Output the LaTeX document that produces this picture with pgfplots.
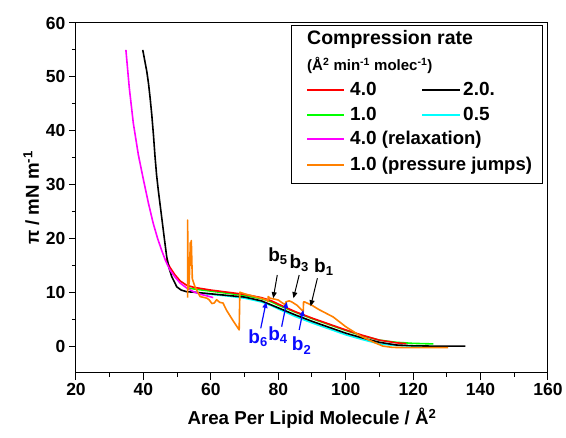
\documentclass[border=0pt]{standalone}
\usepackage{fontspec}
\setmainfont{Liberation Sans}
\usepackage{pgfplots}
\pgfplotsset{compat=1.18}
\usetikzlibrary{arrows.meta}
\definecolor{cred}{RGB}{255,0,0}
\definecolor{cgreen}{RGB}{0,255,0}
\definecolor{ccyan}{RGB}{0,255,255}
\definecolor{cmag}{RGB}{255,0,255}
\definecolor{corange}{RGB}{255,128,0}
\definecolor{cblue}{RGB}{10,10,255}
\newcommand\fs[1]{\fontsize{#1}{#1}\selectfont\bfseries}

\begin{document}
\begin{tikzpicture}
\useasboundingbox (-76pt,-65pt) rectangle (490pt,373pt);
\begin{axis}[
    scale only axis,width=472pt,height=350pt,
    xmin=20,xmax=160,ymin=-5,ymax=60,
    xtick={20,40,...,160},ytick={0,10,...,60},
    minor x tick num=1,minor y tick num=1,
    tick pos=left,tick align=outside,
    major tick length=7pt,minor tick length=4pt,
    axis line style={line width=1pt},
    every tick/.style={black,line width=1pt},
    /pgf/number format/assume math mode=true,
    tick label style={font=\fs{17.5}},
    xlabel={Area Per Lipid Molecule / Å\textsuperscript{2}},
    ylabel={π / mN m\textsuperscript{-1}},
    label style={font=\fs{18.7}},
    xlabel style={yshift=-5pt},
    ylabel style={yshift=0pt},
    every axis plot/.append style={line width=1.6pt,line join=round},
  ]
  % 0.5
  \addplot[ccyan] coordinates {(54.3,10.1)(60,9.6)(65,9.3)(70,8.9)(75,8.2)(78,7.5)(80,6.9)(85,5.5)(90,4.3)(95,3.2)(100,2.1)(105,1.2)(110,0.4)(115,0.1)(120,0)(125,-0.05)};
  % 1.0
  \addplot[cgreen] coordinates {(53.2,10.8)(55,10.6)(60,10.2)(65,9.8)(70,9.4)(75,8.8)(78,8.2)(80,7.6)(85,6.3)(90,5.1)(95,4.0)(100,2.9)(105,1.9)(110,1.1)(115,0.7)(120,0.5)(126,0.4)};
  % 4.0
  \addplot[cred] coordinates {(46.6,16.2)(47.9,14.6)(49.4,13.2)(50.9,12.1)(52.8,11.3)(55,10.9)(60,10.4)(65,10.0)(70,9.6)(75,9.0)(78,8.4)(80,7.8)(85,6.4)(90,5.2)(95,4.1)(100,3.0)(105,2.0)(110,1.1)(115,0.6)(118,0.45)};
  % 2.0
  \addplot[black] coordinates {(39.8,55)(40.4,53)(41.0,51.0)(41.5,48.8)(42.0,46.0)(42.5,42.8)(43.0,39.0)(43.4,35.5)(43.9,31.8)(44.4,29)(45.0,26)(45.4,24)(46.2,20)(46.9,16.6)(47.6,14.5)(48.4,12.9)(49.9,11.0)(51.2,10.4)(52.8,10.1)(55,10.0)(60,9.7)(65,9.4)(70,9.1)(75,8.4)(80,7.1)(85,5.8)(90,4.6)(95,3.5)(100,2.4)(105,1.5)(110,0.7)(115,0.2)(120,0.05)(125,0)(135.5,0)};
  % 4.0 relaxation
  \addplot[cmag] coordinates {(34.8,55)(35.8,48)(37,41.4)(38.5,35.5)(40,30.9)(41.5,26.5)(42.9,22.8)(44.2,20)(45.4,17.8)(46.6,15.8)(47.9,14.1)(49.4,12.8)(50.9,11.7)(52.8,10.8)(54.8,10.1)(57,9.6)(59,9.3)(60.7,9.0)};
  % 1.0 pressure jumps
  \addplot[corange] coordinates {(130.4,-0.3)(120,-0.3)(114,-0.25)(111,0.0)(108,0.8)(104.3,1.9)(100,3.6)(96.3,5.4)(92,6.8)(89.9,7.6)(87.8,8.2)(87.5,8.2)(87.4,6.4)(86.5,7.0)(85.5,7.6)(84,8.2)(83.2,8.4)(82.3,8.2)(82.0,7.7)(81,8.1)(80,8.55)(79,8.7)(77.5,8.9)(77.0,9.2)(77.0,8.3)(76.5,8.6)(73,9.2)(70,9.7)(68.6,10.0)(68.4,3.0)(66.7,4.6)(64.7,6.6)(63.6,8.0)(62.7,8.1)(61.7,8.6)(61,8.0)(60.3,7.9)(59.5,8.6)(58.8,8.9)(56.8,9.2)(55.3,11.0)(54.5,12.5)(54.2,19.6)(54.0,15)(53.9,19.2)(53.6,12)(53.3,10.5)(53.1,23.4)(53.1,9.0)};
  % annotations
  \node[anchor=base west,inner sep=0pt,font=\fs{19}] at (axis cs:77.0,15.7) {b\textsubscript{\fs{13}5}};
  \node[anchor=base west,inner sep=0pt,font=\fs{19}] at (axis cs:83.3,14.4) {b\textsubscript{\fs{13}3}};
  \node[anchor=base west,inner sep=0pt,font=\fs{19}] at (axis cs:90.6,13.6) {b\textsubscript{\fs{13}1}};
  \node[anchor=base west,inner sep=0pt,font=\fs{19},text=cblue] at (axis cs:71.1,0.5) {b\textsubscript{\fs{13}6}};
  \node[anchor=base west,inner sep=0pt,font=\fs{19},text=cblue] at (axis cs:77.0,1.1) {b\textsubscript{\fs{13}4}};
  \node[anchor=base west,inner sep=0pt,font=\fs{19},text=cblue] at (axis cs:84.0,-0.9) {b\textsubscript{\fs{13}2}};
  \draw[-{Triangle[length=6pt,width=5pt]},line width=1pt] (axis cs:79.7,13.2) -- (axis cs:78.5,8.9);
  \draw[-{Triangle[length=6pt,width=5pt]},line width=1pt] (axis cs:86.2,13.2) -- (axis cs:84.5,8.9);
  \draw[-{Triangle[length=6pt,width=5pt]},line width=1pt] (axis cs:91.6,12.6) -- (axis cs:89.6,7.4);
  \draw[-{Triangle[length=6pt,width=5pt]},line width=1.2pt,cblue] (axis cs:74.8,3.3) -- (axis cs:76.4,8.2);
  \draw[-{Triangle[length=6pt,width=5pt]},line width=1.2pt,cblue] (axis cs:81.0,3.6) -- (axis cs:82.5,8.2);
  \draw[-{Triangle[length=6pt,width=5pt]},line width=1.2pt,cblue] (axis cs:86.2,3.0) -- (axis cs:87.4,6.7);
\end{axis}
% legend (axis south west at origin, 1pt = 1px of the reference)
\draw[line width=0.9pt,fill=white] (215pt,190pt) rectangle (466pt,348pt);
\node[anchor=base west,inner sep=0pt,font=\fs{19.5}] at (231pt,328pt) {Compression rate};
\node[anchor=base west,inner sep=0pt,font=\fs{15}] at (231pt,302pt) {(Å\textsuperscript{2} min\textsuperscript{-1} molec\textsuperscript{-1})};
\draw[cred,line width=1.6pt] (231pt,283pt) -- (268pt,283pt);
\node[anchor=base west,inner sep=0pt,font=\fs{19}] at (274pt,277pt) {4.0};
\draw[black,line width=1.6pt] (346pt,283pt) -- (384pt,283pt);
\node[anchor=base west,inner sep=0pt,font=\fs{19}] at (387pt,277pt) {2.0.};
\draw[cgreen,line width=1.6pt] (231pt,258pt) -- (268pt,258pt);
\node[anchor=base west,inner sep=0pt,font=\fs{19}] at (274pt,252pt) {1.0};
\draw[ccyan,line width=1.6pt] (346pt,258pt) -- (384pt,258pt);
\node[anchor=base west,inner sep=0pt,font=\fs{19}] at (387pt,252pt) {0.5};
\draw[cmag,line width=1.6pt] (231pt,234pt) -- (268pt,234pt);
\node[anchor=base west,inner sep=0pt,font=\fs{19}] at (274pt,228pt) {4.0 {\fs{18.5}(relaxation)}};
\draw[corange,line width=1.6pt] (231pt,208pt) -- (268pt,208pt);
\node[anchor=base west,inner sep=0pt,font=\fs{19}] at (274pt,202pt) {1.0 {\fs{18.5}(pressure jumps)}};
\end{tikzpicture}
\end{document}
